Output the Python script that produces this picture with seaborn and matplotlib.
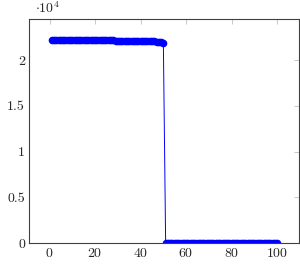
import matplotlib
matplotlib.use("Agg")
import matplotlib.pyplot as plt
import matplotlib.ticker as mticker
import seaborn as sns
import pandas as pd

# x positions 1..100
x_values = list(range(1, 101))

y_first_half = [
    22190, 22188, 22186, 22184, 22182, 22180, 22178, 22176, 22174, 22172,
    22170, 22168, 22166, 22164, 22162, 22160, 22158, 22156, 22154, 22152,
    22150, 22148, 22146, 22144, 22142, 22140, 22138, 22136, 22134, 22132,
    22130, 22127, 22124, 22121, 22118, 22114, 22110, 22105, 22100, 22094,
    22087, 22079, 22070, 22060, 22048, 22034, 22018, 21998, 21960, 21880,
]
y_second_half = [
    0, 0, 0, 0, 0, 0, 0, 0, 0, 0,
    0, 0, 0, 0, 0, 0, 0, 0, 0, 0,
    0, 0, 0, 0, 0, 0, 0, 0, 0, 0,
    0, 0, 0, 0, 0, 0, 0, 0, 0, 0,
    0, 0, 0, 0, 0, 0, 0, 0, 0, 0,
]
y_values = y_first_half + y_second_half

x_ticks = [0, 20, 40, 60, 80, 100]
y_ticks = [0, 5000, 10000, 15000, 20000]

df = pd.DataFrame({"x": x_values, "y": y_values})

sns.set_style("white")
plt.rcParams["font.family"] = ["cmr10", "DejaVu Serif"]
plt.rcParams["mathtext.fontset"] = "cm"
plt.rcParams["axes.formatter.use_mathtext"] = True

fig = plt.figure(figsize=(3.0, 2.64), dpi=100)
ax = fig.add_axes([0.0977, 0.0784, 0.899, 0.8496])

sns.lineplot(data=df, x="x", y="y", ax=ax, color="blue", linewidth=0.7,
             marker="o", markersize=5.5, markeredgewidth=0, estimator=None)

ax.set_xlim(-8.9, 109.6)
ax.set_ylim(0, 24480)
ax.set_xticks(x_ticks)
ax.set_yticks(y_ticks)
ax.yaxis.set_major_formatter(mticker.FuncFormatter(lambda v, p: f"{v/1e4:g}"))
ax.set_xlabel("")
ax.set_ylabel("")

ax.tick_params(direction="in", length=3.5, width=0.5, color="#b0b0b0",
               top=True, right=True, labelsize=10, pad=3)
for s in ax.spines.values():
    s.set_color("#404040")
    s.set_linewidth(0.8)

ax.text(0.02, 1.015, r"$\cdot 10^4$", transform=ax.transAxes, fontsize=10,
        ha="left", va="bottom")

fig.savefig("out.png", dpi=100)
